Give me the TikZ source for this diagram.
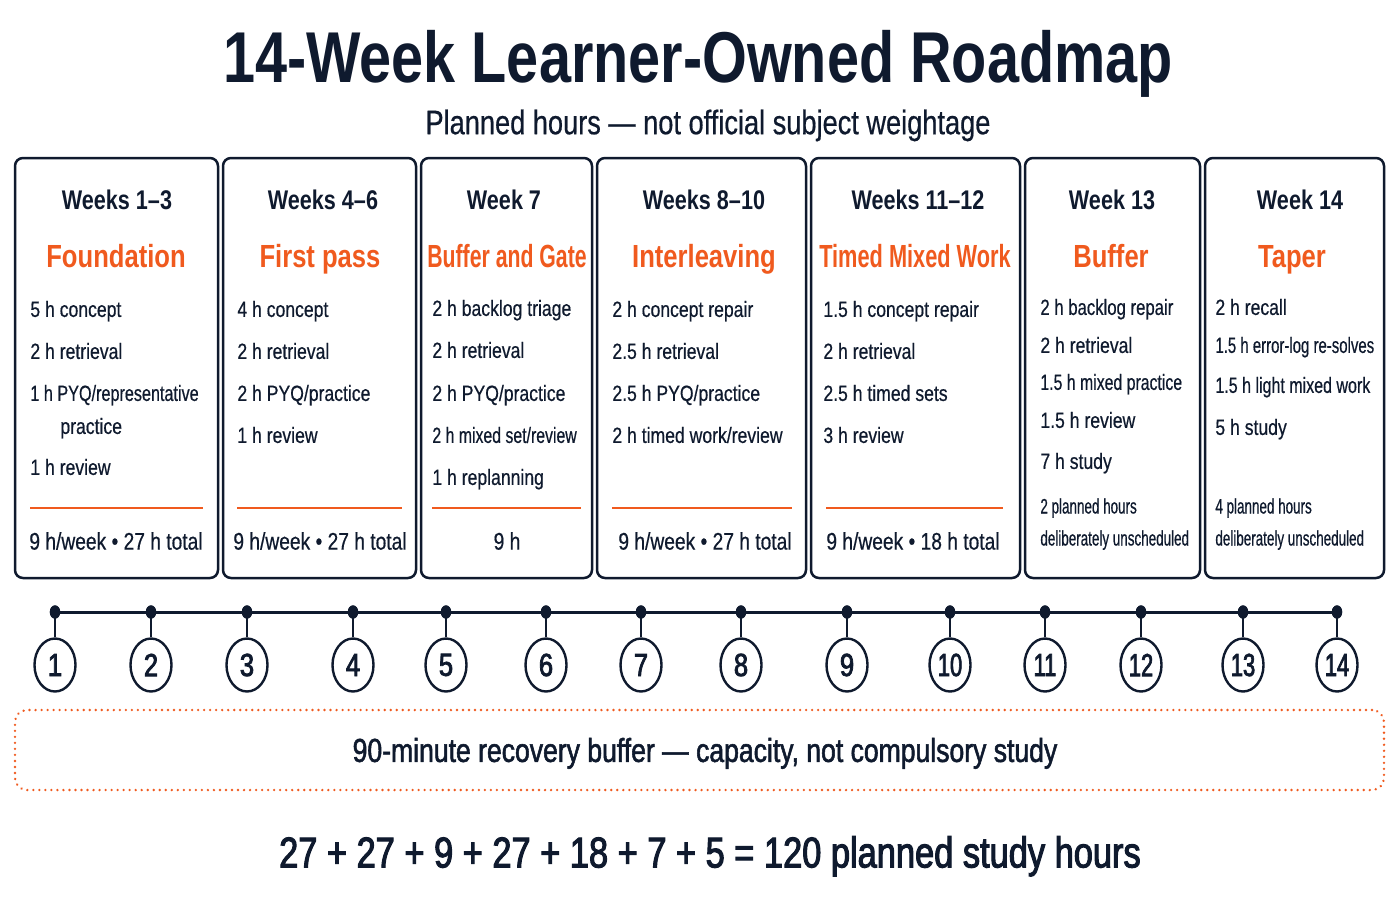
\documentclass[tikz,border=0pt]{standalone}
\usepackage{fontspec}
\setmainfont{Liberation Sans}[FakeStretch=0.8,UprightFeatures={FakeBold=0.5}]
\newfontfamily\narrowfont{Liberation Sans}[FakeStretch=0.64,FakeBold=0.5]
\newfontfamily\medfont{Liberation Sans}[FakeStretch=0.8,FakeBold=1.6]
\newfontfamily\semifont{Liberation Sans}[FakeStretch=0.8,FakeBold=2.4]
\usetikzlibrary{shapes.geometric,fit}
\definecolor{ink}{HTML}{0F1A2E}
\definecolor{accent}{HTML}{F05A1E}
\newcommand\sqz[2]{\scalebox{#1}[1]{#2}}
\tikzset{
  base/.style={inner sep=0pt, text depth=0pt, text=ink},
  ttl/.style={base, font=\fontsize{36}{40}\selectfont\bfseries, text height=25.8pt},
  sub/.style={base, font=\fontsize{17}{20}\selectfont, text height=12.2pt},
  wk/.style={base, font=\fontsize{13.5}{16}\selectfont\bfseries, text height=9.7pt},
  phase/.style={base, font=\fontsize{16}{19}\selectfont\bfseries, text=accent, text height=11.5pt},
  item/.style={base, anchor=west, font=\fontsize{11}{13}\selectfont, text height=7.9pt},
  foot/.style={base, font=\fontsize{12}{14}\selectfont, text height=8.6pt},
  note/.style={base, anchor=west, font=\narrowfont\fontsize{10.5}{12}\selectfont, text height=7.5pt},
  panel/.style={draw=ink, line width=1.25pt, rounded corners=4pt, inner sep=0pt, fill=white},
  sepline/.style={draw=accent, line width=0.9pt},
  tl/.style={draw=ink, line width=1.5pt},
  tdot/.style={ellipse, fill=ink, minimum width=5.2pt, minimum height=6.6pt, inner sep=0pt},
  stem/.style={draw=ink, line width=1pt},
  num/.style={ellipse, draw=ink, line width=1.2pt, fill=white, minimum width=20.5pt, minimum height=26.5pt, inner sep=0pt, text=ink, font=\semifont\fontsize{16}{18}\selectfont},
  dotbox/.style={draw=accent, line width=1.3pt, dash pattern=on 0.01pt off 3pt, line cap=round, rounded corners=6pt, inner sep=0pt},
  band/.style={base, font=\medfont\fontsize{16.6}{20}\selectfont, text height=11.9pt},
  total/.style={base, font=\semifont\fontsize{21.5}{24}\selectfont, text height=15.4pt},
}
\begin{document}
\begin{tikzpicture}[x=0.5pt, y=-0.5pt]
\useasboundingbox[fill=white] (0,0) rectangle (1400,900);

% titles
\node[ttl] (title) at (698,57) {14-Week Learner-Owned Roadmap};
\node[sub] (subtitle) at (708,122) {Planned hours — not official subject weightage};

% panels
\node[panel, fit={(15,158) (218,578)}] (p1) {};
\node[panel, fit={(223,158) (416,578)}] (p2) {};
\node[panel, fit={(421,158) (592,578)}] (p3) {};
\node[panel, fit={(597,158) (806,578)}] (p4) {};
\node[panel, fit={(811,158) (1020,578)}] (p5) {};
\node[panel, fit={(1025,158) (1200,578)}] (p6) {};
\node[panel, fit={(1205,158) (1384,578)}] (p7) {};

% panel 1
\node[wk] (w1) at (117,200) {Weeks 1–3};
\node[phase] (f1) at (116,256) {Foundation};
\node[item] (a11) at (30,309) {5 h concept};
\node[item] (a12) at (30,351) {2 h retrieval};
\node[item] (a13) at (30,393) {\sqz{0.92}{1 h PYQ/representative}};
\node[item] (a14) at (60,426) {practice};
\node[item] (a15) at (30,467) {1 h review};
\coordinate (s1a) at (30,508); \coordinate (s1b) at (203,508);
\draw[sepline] (s1a) -- (s1b);
\node[foot] (t1) at (116,541) {9 h/week • 27 h total};

% panel 2
\node[wk] (w2) at (323,200) {Weeks 4–6};
\node[phase] (f2) at (320,256) {First pass};
\node[item] (a21) at (237,309) {4 h concept};
\node[item] (a22) at (237,351) {2 h retrieval};
\node[item] (a23) at (237,393) {2 h PYQ/practice};
\node[item] (a24) at (237,435) {1 h review};
\coordinate (s2a) at (237,508); \coordinate (s2b) at (402,508);
\draw[sepline] (s2a) -- (s2b);
\node[foot] (t2) at (320,541) {9 h/week • 27 h total};

% panel 3
\node[wk] (w3) at (504,200) {Week 7};
\node[phase] (f3) at (507,256) {\sqz{0.83}{Buffer and Gate}};
\node[item] (a31) at (432,308) {2 h backlog triage};
\node[item] (a32) at (432,350) {2 h retrieval};
\node[item] (a33) at (432,393) {2 h PYQ/practice};
\node[item] (a34) at (432,435) {\sqz{0.9}{2 h mixed set/review}};
\node[item] (a35) at (432,477) {1 h replanning};
\coordinate (s3a) at (432,508); \coordinate (s3b) at (581,508);
\draw[sepline] (s3a) -- (s3b);
\node[foot] (t3) at (507,541) {9 h};

% panel 4
\node[wk] (w4) at (704,200) {Weeks 8–10};
\node[phase] (f4) at (704,256) {Interleaving};
\node[item] (a41) at (612,309) {2 h concept repair};
\node[item] (a42) at (612,351) {2.5 h retrieval};
\node[item] (a43) at (612,393) {2.5 h PYQ/practice};
\node[item] (a44) at (612,435) {2 h timed work/review};
\coordinate (s4a) at (612,508); \coordinate (s4b) at (792,508);
\draw[sepline] (s4a) -- (s4b);
\node[foot] (t4) at (705,541) {9 h/week • 27 h total};

% panel 5
\node[wk] (w5) at (918,200) {Weeks 11–12};
\node[phase] (f5) at (915,256) {\sqz{0.85}{Timed Mixed Work}};
\node[item] (a51) at (823,309) {1.5 h concept repair};
\node[item] (a52) at (823,351) {2 h retrieval};
\node[item] (a53) at (823,393) {2.5 h timed sets};
\node[item] (a54) at (823,435) {3 h review};
\coordinate (s5a) at (826,508); \coordinate (s5b) at (1003,508);
\draw[sepline] (s5a) -- (s5b);
\node[foot] (t5) at (913,541) {9 h/week • 18 h total};

% panel 6
\node[wk] (w6) at (1112,200) {Week 13};
\node[phase] (f6) at (1111,256) {Buffer};
\node[item] (a61) at (1040,307) {\sqz{0.95}{2 h backlog repair}};
\node[item] (a62) at (1040,345) {2 h retrieval};
\node[item] (a63) at (1040,382) {\sqz{0.9}{1.5 h mixed practice}};
\node[item] (a64) at (1040,420) {1.5 h review};
\node[item] (a65) at (1040,461) {7 h study};
\node[note] (n61) at (1040,506) {2 planned hours};
\node[note] (n62) at (1040,538) {deliberately unscheduled};

% panel 7
\node[wk] (w7) at (1300,200) {Week 14};
\node[phase] (f7) at (1292,256) {Taper};
\node[item] (a71) at (1215,307) {2 h recall};
\node[item] (a72) at (1215,345) {\sqz{0.85}{1.5 h error-log re-solves}};
\node[item] (a73) at (1215,385) {\sqz{0.91}{1.5 h light mixed work}};
\node[item] (a74) at (1215,427) {5 h study};
\node[note] (n71) at (1215,506) {4 planned hours};
\node[note] (n72) at (1215,538) {deliberately unscheduled};

% timeline
\foreach \xx [count=\i] in {55,151,247,353,446,546,641,741,847,950,1045,1141,1243,1337} {
  \node[tdot] (d\i) at (\xx,612) {};
}
\draw[tl] (d1.center) -- (d14.center);
\foreach \xx [count=\i] in {55,151,247,353,446,546,641,741,847,950,1045,1141,1243,1337} {
  \node[num] (c\i) at (\xx,665) {\ifnum\i>9 \sqz{0.86}{\i}\else\i\fi};
  \draw[stem] (d\i.center) -- (c\i.north);
  \node[tdot] at (d\i) {};
}

% recovery band
\node[dotbox, fit={(15,710) (1384,790)}] (band) {};
\node[band] (bandtext) at (705,750) {90-minute recovery buffer — capacity, not compulsory study};

% total
\node[total] (sum) at (710,852) {27 + 27 + 9 + 27 + 18 + 7 + 5 = 120 planned study hours};
\end{tikzpicture}
\end{document}
